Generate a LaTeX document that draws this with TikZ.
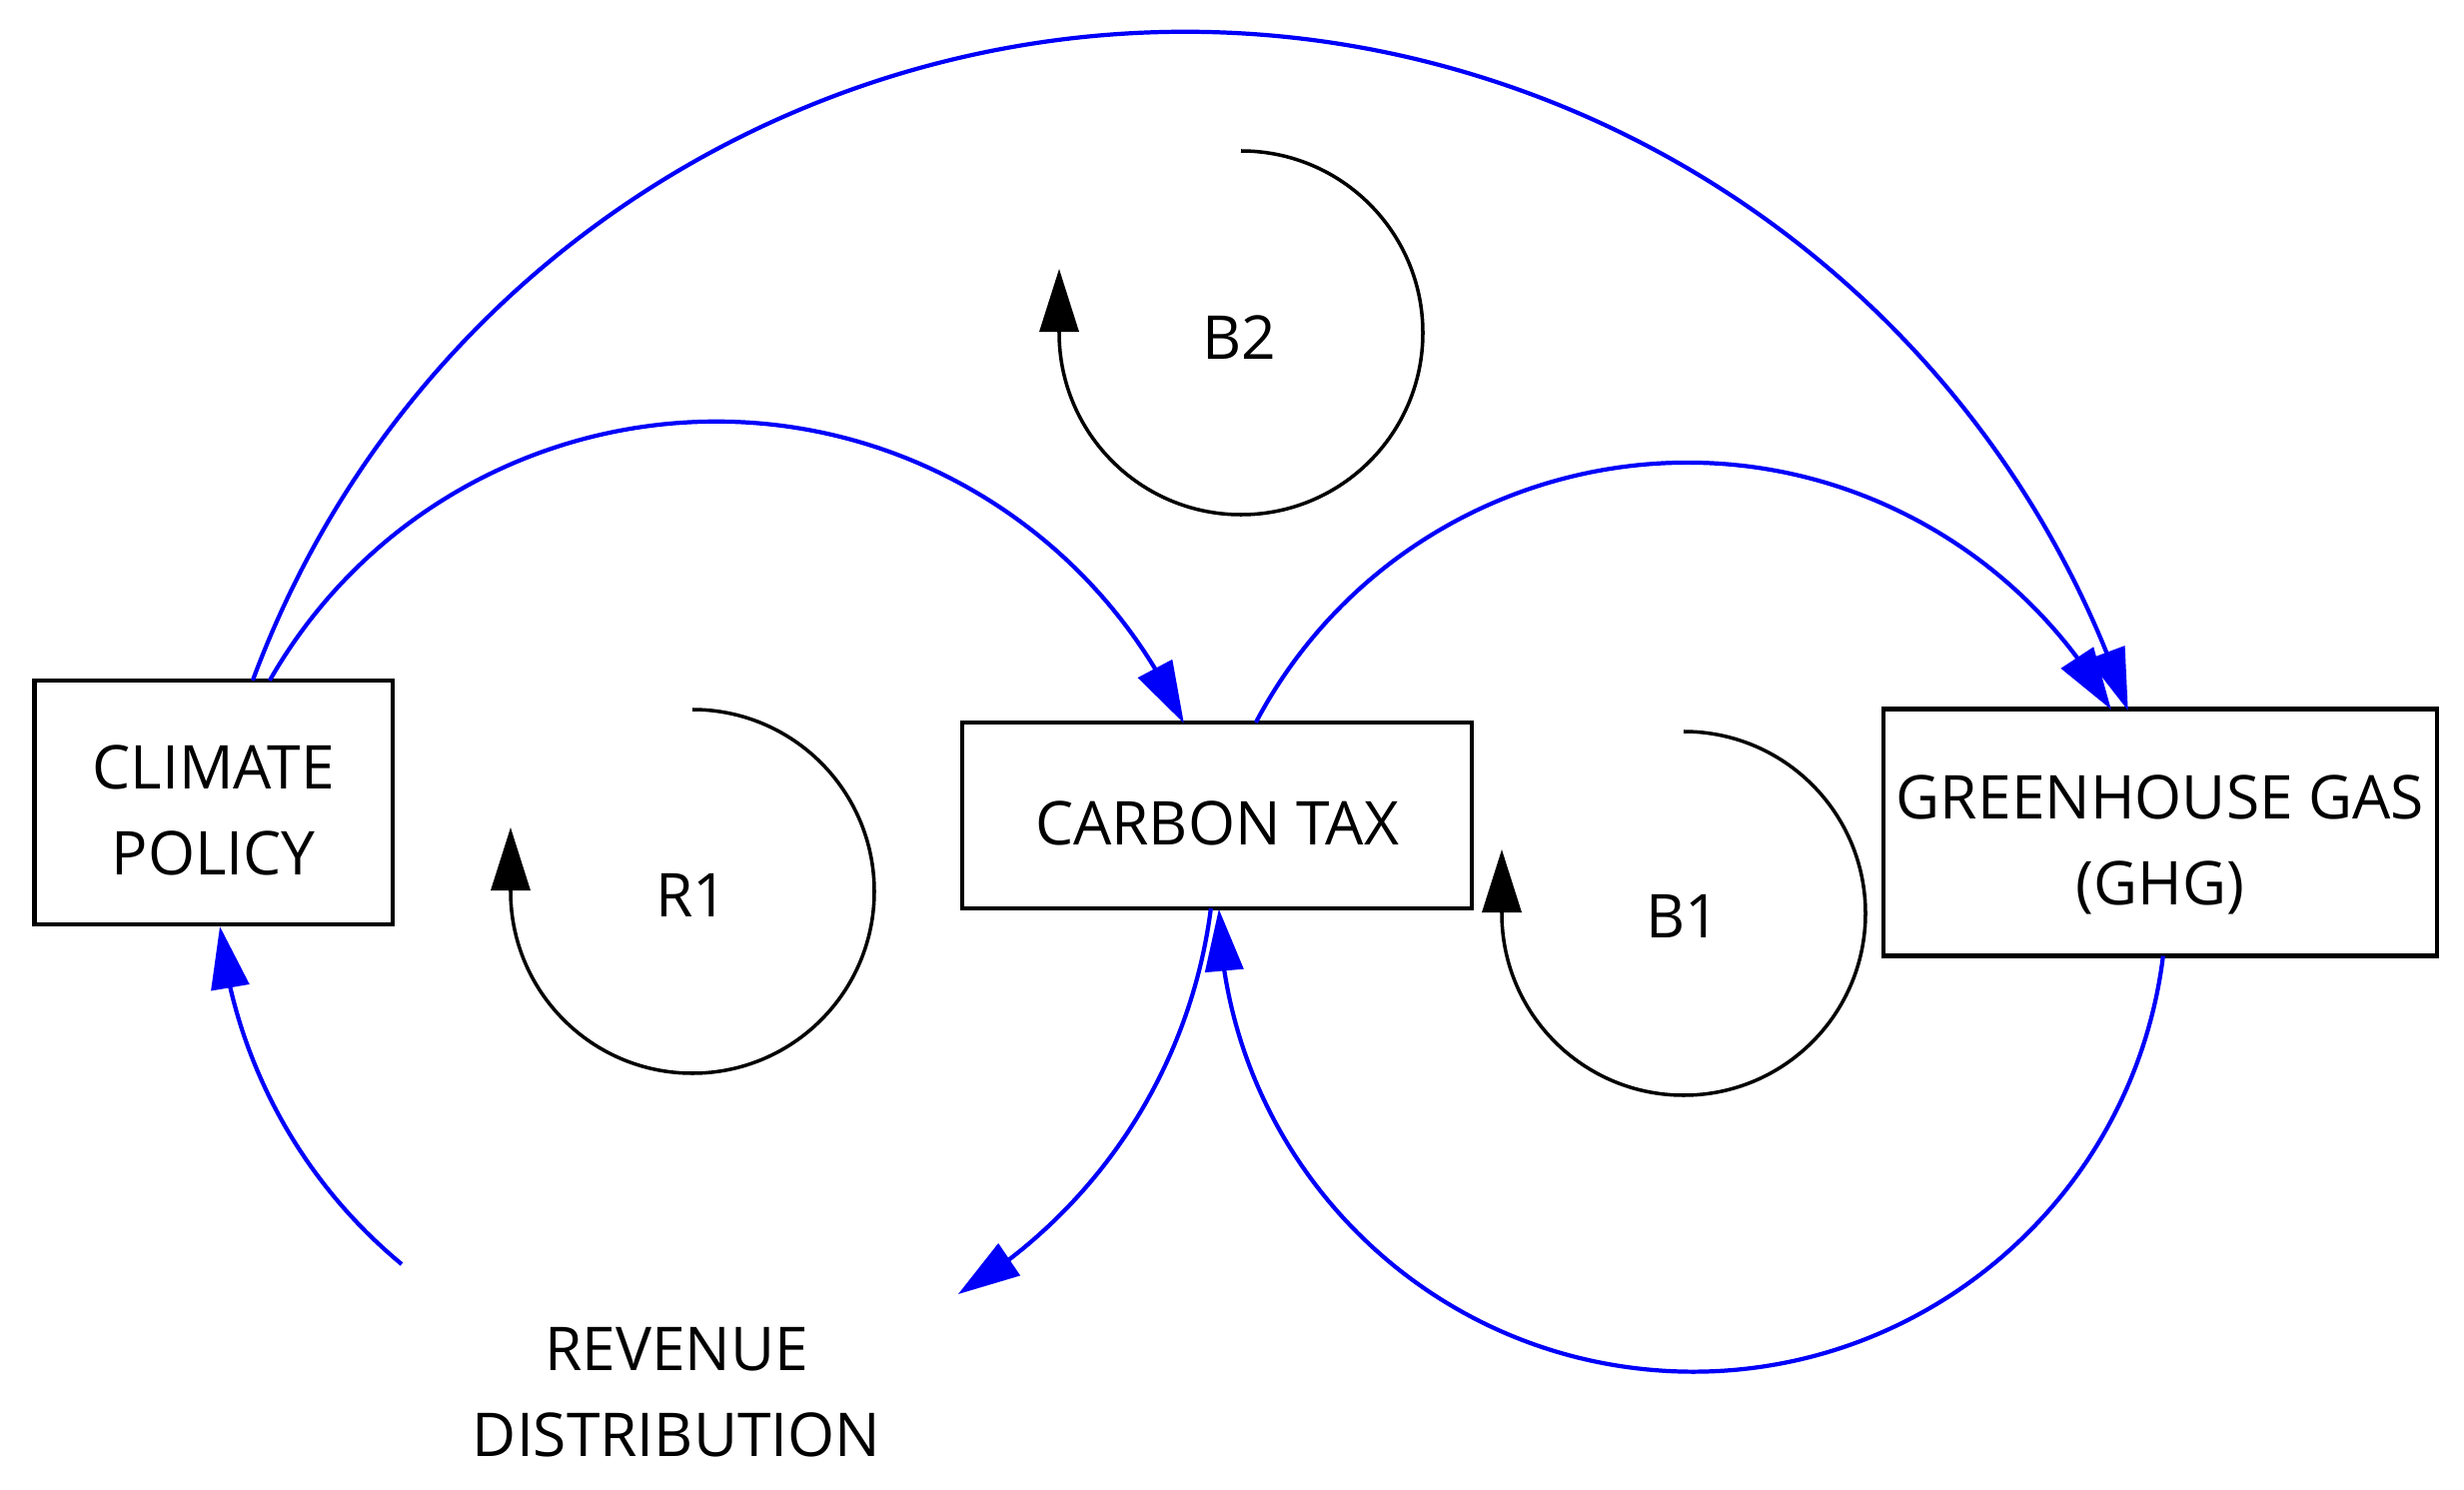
\documentclass[tikz,border=0pt]{standalone}
\usepackage{fontspec}
\setmainfont{Open Sans}
\usetikzlibrary{arrows.meta,calc,bending}
\definecolor{linkblue}{RGB}{0,0,250}
\newcommand{\lblfont}{\fontsize{17.2pt}{24.5pt}\selectfont}
\newcommand{\tstrut}{\rule{0pt}{0.59cm}}
\begin{document}
\begin{tikzpicture}[x=0.01cm,y=-0.01cm,
  boxnode/.style={draw=black, line width=1.3pt, fill=white, inner sep=0pt, outer sep=0pt,
                  align=center, font=\lblfont, text depth=0pt},
  txt/.style={inner sep=0pt, outer sep=0pt, align=center, font=\lblfont},
  conn/.style={draw=linkblue, line width=1.2pt, -{Triangle[length=6.2mm,width=3.8mm,flex]}},
  loopline/.style={draw=black, line width=1pt},
  looptip/.style={draw=black, line width=1pt, -{Triangle[length=6.3mm,width=3.9mm]}}]
\useasboundingbox (0,0) rectangle (2466,1491);

% variables
\node[boxnode, minimum width=3.585cm, minimum height=2.44cm] (cp) at (213.75,803) {\tstrut CLIMATE\\POLICY};
\node[boxnode, minimum width=5.10cm, minimum height=1.86cm] (ct) at (1218,816) {\tstrut CARBON TAX};
\node[boxnode, minimum width=5.54cm, minimum height=2.47cm] (ghg) at (2162,833) {\tstrut GREENHOUSE GAS\\(GHG)};
\node[txt] (rev) at (677,1393) {REVENUE\\DISTRIBUTION};

% loop labels
\node[txt] (r1) at (692,896) {R1};
\node[txt] (b1) at (1684,917) {B1};
\node[txt] (b2) at (1240,338) {B2};

% loop centres
\coordinate (r1c) at (693,892);
\coordinate (b1c) at (1685,914);
\coordinate (b2c) at (1242,333);

% connector end points
\coordinate (cpA) at ($(cp.north west)+(218.5,0)$);
\coordinate (cpB) at ($(cp.north west)+(235.5,0)$);
\coordinate (ctA) at ($(ct.north west)+(294,0)$);
\coordinate (ctB) at ($(ct.south west)+(249,0)$);
\coordinate (ghgA) at ($(ghg.south west)+(280,0)$);
\coordinate (revA) at (402,1265);

% connectors
\draw[conn] (cpA) arc[start angle=-159.63, end angle=-18.53, radius=995.4];
\draw[conn] (cpB) arc[start angle=-150.24, end angle=-24.39, radius=514.4];
\draw[conn] (ctA) arc[start angle=-152.13, end angle=-29.61, radius=488.2];
\draw[conn] (ghgA) arc[start angle=7.07, end angle=178.62, radius=474.4];
\draw[conn] (ctB) arc[start angle=7.29, end angle=59.2, radius=527.3];
\draw[conn] (revA) arc[start angle=129.56, end angle=173.84, radius=509.2];

% loop markers
\draw[loopline] ($(r1c)+(0,-182)$) arc[start angle=-90, end angle=180, radius=182];
\draw[looptip] ($(r1c)+(-182,0)$) -- ++(0,-64);
\draw[loopline] ($(b1c)+(0,-182)$) arc[start angle=-90, end angle=180, radius=182];
\draw[looptip] ($(b1c)+(-182,0)$) -- ++(0,-64);
\draw[loopline] ($(b2c)+(0,-182)$) arc[start angle=-90, end angle=180, radius=182];
\draw[looptip] ($(b2c)+(-182,0)$) -- ++(0,-64);
\end{tikzpicture}
\end{document}
